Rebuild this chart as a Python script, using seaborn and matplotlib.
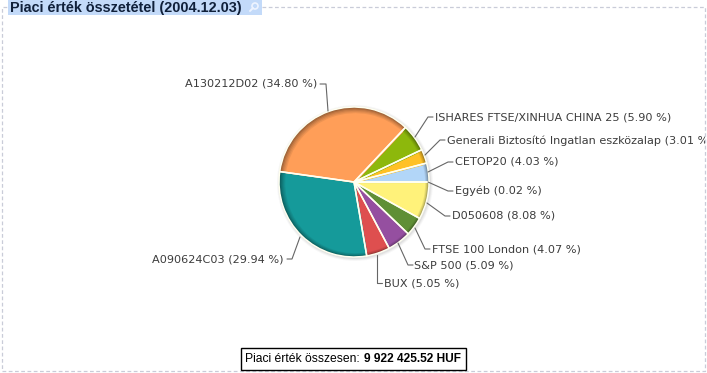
from matplotlib import pyplot as plt
from matplotlib.patches import Circle, Rectangle
import seaborn as sns
import numpy as np

names = ['A130212D02', 'ISHARES FTSE/XINHUA CHINA 25', 'Generali Biztosító Ingatlan eszközalap',
         'CETOP20', 'Egyéb', 'D050608', 'FTSE 100 London', 'S&P 500', 'BUX', 'A090624C03']
shares = [34.80, 5.90, 3.01, 4.03, 0.02, 8.08, 4.07, 5.09, 5.05, 29.94]
colors = ['#FF9E58', '#8DB80C', '#FFC125', '#B2D6F8', '#E8E8E8', '#FFF27A',
          '#5F8F35', '#954FA0', '#DE4F4F', '#159A9A']
title = 'Piaci érték összetétel (2004.12.03)'
total_label = 'Piaci érték összesen:'
total_value = '9 922 425.52 HUF'

sns.set_theme(style='white')
palette = sns.color_palette(colors)

W, H = 707, 373
fig = plt.figure(figsize=(W / 100, H / 100), dpi=100)
ax = fig.add_axes([0, 0, 1, 1])

def y_(y):
    return H - y

# leader lines in pixels: edge, knee, end, then where the text starts and its alignment
leaders = [
    ((328, 111), (326, 84), (320, 84), 317, 84, 'right'),
    ((415, 137), (428, 117), (433, 117), 435, 117, 'left'),
    ((425, 155), (440, 140), (445, 140), 447, 141, 'left'),
    ((428, 172), (448, 162), (453, 162), 455, 162, 'left'),
    ((428, 182), (448, 191), (453, 191), 455, 191, 'left'),
    ((427, 203), (445, 216), (450, 216), 452, 216, 'left'),
    ((415, 228), (425, 249), (430, 249), 432, 249, 'left'),
    ((398, 243), (408, 265), (413, 265), 414, 266, 'left'),
    ((377, 255), (377, 283), (382, 283), 384, 283, 'left'),
    ((300, 237), (292, 259), (287, 259), 283, 260, 'right'),
]

cx, cy, r = 354, y_(182), 75
start = 172

# soft shadow under the pie
for grow, a in [(3, 0.07), (2, 0.10), (1, 0.15)]:
    ax.add_patch(Circle((cx + 1, cy - 1), r + grow, color='#999999', alpha=a, lw=0))

# dark rim that fades into the flat colours
steps = [(r, 0.58, 0), (r - 1, 0.68, 0.2), (r - 2, 0.78, 0.5), (r - 3, 0.86, 0.8),
         (r - 4, 0.93, 1.0), (r - 5, 1.0, 1.2)]
for rad, k, shift in steps:
    shaded = [tuple(c * k for c in col) for col in palette]
    ax.pie(shares, colors=shaded, startangle=start, counterclock=False, radius=rad,
           center=(cx + shift, cy - shift), frame=True, wedgeprops={'linewidth': 0})
ax.pie(shares, colors=['none'] * len(shares), startangle=start, counterclock=False, radius=r,
       center=(cx, cy), frame=True, wedgeprops={'linewidth': 1.1, 'edgecolor': '#FFFFF0'})

ax.set_xlim(0, W)
ax.set_ylim(0, H)
ax.set_aspect('auto')
ax.axis('off')

# dashed frame
frame_col = '#C9CCD8'
frame_kw = dict(color=frame_col, lw=0.9, ls=(0, (3, 2)))
ax.plot([262, 705, 705, 2, 2, 8], [y_(7), y_(7), y_(371), y_(371), y_(7), y_(7)], **frame_kw)

# title tab with the little magnifier
ax.add_patch(Rectangle((8, y_(15)), 254, 15, color='#C3DAF9', lw=0))
ax.text(10, y_(8), title, fontsize=10.4, fontweight='bold', color='#10203A',
        family='Liberation Sans', va='center', ha='left')
ax.add_patch(Circle((255, y_(6)), 3, fill=False, ec='#EEF4FF', lw=1.2))
ax.plot([253, 250], [y_(8), y_(11)], color='#EEF4FF', lw=1.4)

clip = Rectangle((0, 0), 705, H, transform=ax.transData)
for name, share, (edge, knee, end, tx, ty, ha) in zip(names, shares, leaders):
    ax.plot([edge[0], knee[0], end[0]], [y_(edge[1]), y_(knee[1]), y_(end[1])], color='#666666', lw=0.8)
    t = ax.text(tx, y_(ty), f'{name} ({share:.2f} %)', fontsize=8.1, color='#3C3C3C',
                family='DejaVu Sans', va='center', ha=ha)
    t.set_clip_path(clip)
    t.set_clip_on(True)

# total box at the bottom
ax.add_patch(Rectangle((240.5, y_(369.5)), 225, 22, fc='white', ec='black', lw=1, zorder=3))
ax.text(245, y_(359), total_label, fontsize=8.75, family='Liberation Sans', color='black',
        va='center', ha='left', zorder=4)
ax.text(364.5, y_(359), total_value, fontsize=8.55, fontweight='bold', family='Liberation Sans',
        color='black', va='center', ha='left', zorder=4)

fig.savefig('out.png', dpi=100)
